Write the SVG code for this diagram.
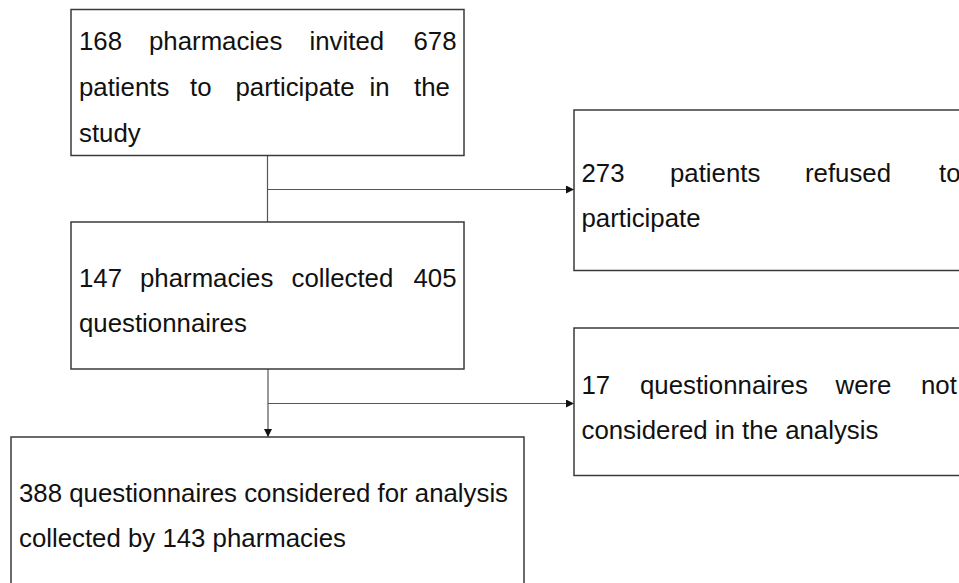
<svg xmlns="http://www.w3.org/2000/svg" width="959" height="583" viewBox="0 0 959 583">
<style>
.box{fill:#fff;stroke:#3a3a3a;stroke-width:1.5}
.t{font-family:"Liberation Sans",Arial,sans-serif;font-size:25.8px;fill:#111}
.c{fill:none;stroke:#555;stroke-width:1.2}
</style>
<defs>
<marker id="ah" viewBox="0 0 10 10" refX="10" refY="5" markerWidth="8" markerHeight="8" markerUnits="userSpaceOnUse" orient="auto">
<path d="M0,0 L10,5 L0,10 Z" fill="#111"/>
</marker>
</defs>
<rect width="959" height="583" fill="#fff"/>
<g id="connectors">
<path class="c" d="M267.5,155 V222"/>
<path class="c" d="M267.5,189.5 H574" marker-end="url(#ah)"/>
<path class="c" d="M268,369 V437" marker-end="url(#ah)"/>
<path class="c" d="M268,403.5 H574" marker-end="url(#ah)"/>
</g>
<g id="n1">
<rect class="box" x="71" y="9.5" width="393" height="146"/>
<text class="t" y="50"><tspan x="79">168</tspan><tspan x="149">pharmacies</tspan><tspan x="309.5">invited</tspan><tspan x="413.5">678</tspan></text>
<text class="t" y="96"><tspan x="79">patients</tspan><tspan x="190">to</tspan><tspan x="235.5">participate</tspan><tspan x="369.5">in</tspan><tspan x="414">the</tspan></text>
<text class="t" x="79" y="141.5">study</text>
</g>
<g id="n2">
<rect class="box" x="71" y="222" width="393" height="147"/>
<text class="t" y="286.5"><tspan x="79">147</tspan><tspan x="140">pharmacies</tspan><tspan x="291.5">collected</tspan><tspan x="413.5">405</tspan></text>
<text class="t" x="79" y="331.5">questionnaires</text>
</g>
<g id="n3">
<rect class="box" x="574" y="110" width="420" height="160.5"/>
<text class="t" y="181.5"><tspan x="581.5">273</tspan><tspan x="670">patients</tspan><tspan x="805">refused</tspan><tspan x="939">to</tspan></text>
<text class="t" x="581.5" y="226.5">participate</text>
</g>
<g id="n4">
<rect class="box" x="574" y="328" width="420" height="147.5"/>
<text class="t" y="393.5"><tspan x="581.5">17</tspan><tspan x="640">questionnaires</tspan><tspan x="835.5">were</tspan><tspan x="921">not</tspan></text>
<text class="t" x="581.5" y="438.5">considered in the analysis</text>
</g>
<g id="n5">
<rect class="box" x="11" y="437" width="513" height="170"/>
<text class="t" x="19" y="501.5">388 questionnaires considered for analysis</text>
<text class="t" x="19" y="546.5">collected by 143 pharmacies</text>
</g>
</svg>
